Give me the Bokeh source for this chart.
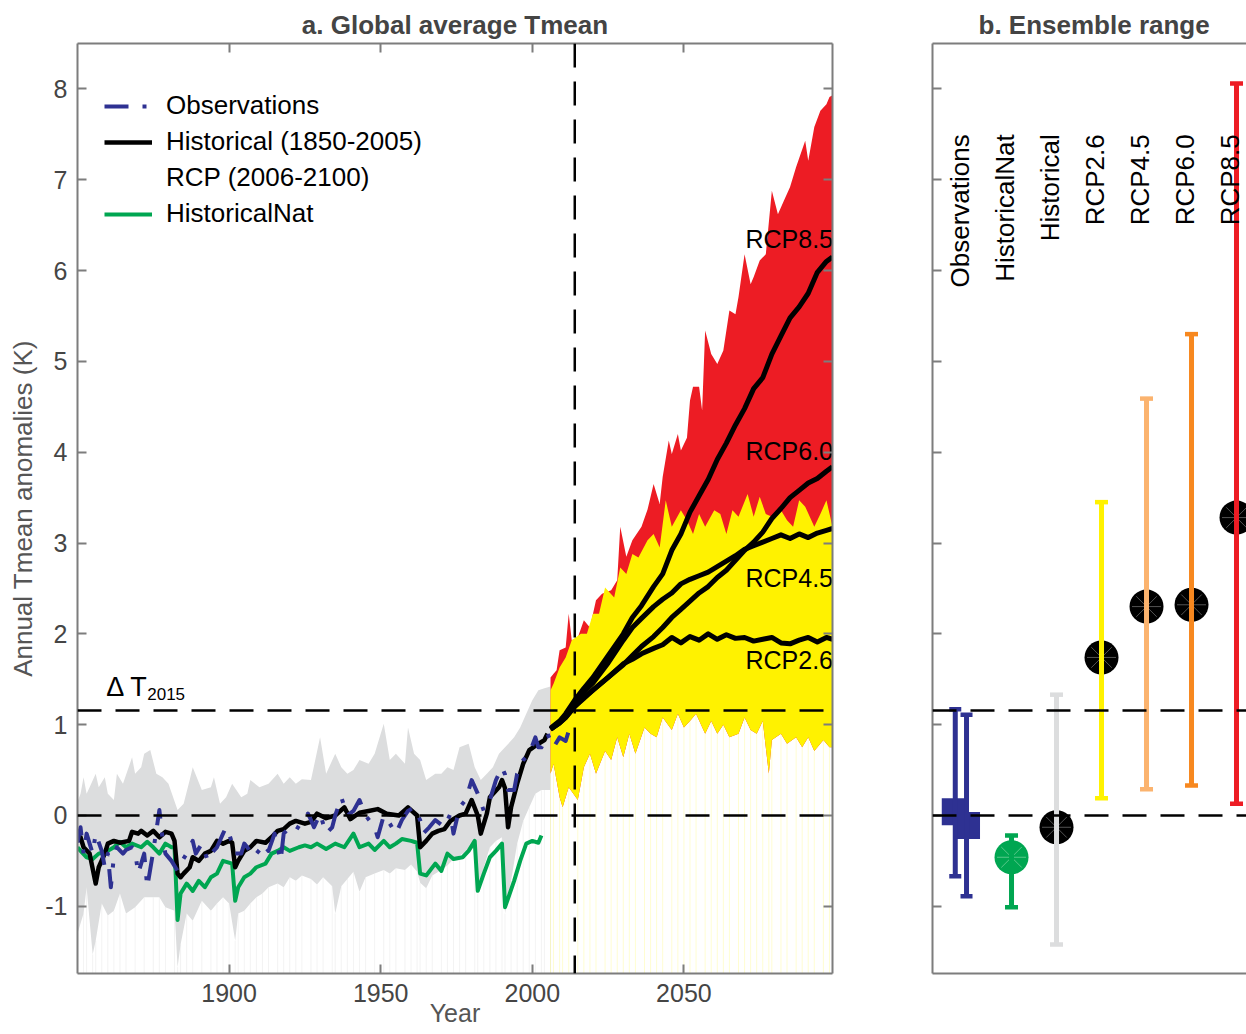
import math
from bokeh.plotting import figure
from bokeh.models import Range1d, LinearAxis, FixedTicker, Span, Legend, LegendItem
from bokeh.layouts import row
from bokeh.embed import file_html
from bokeh.resources import INLINE
from bokeh.core.properties import value

FONT = "Liberation Sans"
AXIS = "#7d7d7d"
TICKLAB = "#454545"
OBS_C = "#2E3192"
NAT_C = "#00A651"
GREY_C = "#DCDDDE"
YEL_C = "#FFF200"
RED_C = "#ED1C24"
ORL_C = "#FBB36E"
ORA_C = "#F7881F"

# ---------------- data: panel a ----------------
hist_years = [1850,1851,1852,1854,1856,1857,1859,1860,1862,1864,1867,1868,1870,1871,1873,1875,1877,1879,1881,1882,
              1883,1884,1885,1887,1888,1890,1892,1894,1896,1898,1900,1901,1902,1903,1905,1907,1909,1912,1914,1916,
              1918,1920,1922,1925,1927,1929,1932,1935,1938,1940,1943,1946,1949,1952,1956,1959,1962,1963,1965,1967,
              1969,1971,1973,1976,1978,1980,1982,1983,1985,1986,1989,1990,1991,1992,1993,1995,1997,1999,2002,2004,2005]
hist_mean = [-0.28,-0.24,-0.35,-0.42,-0.75,-0.57,-0.42,-0.31,-0.28,-0.30,-0.28,-0.18,-0.20,-0.17,-0.22,-0.17,-0.24,-0.18,-0.20,-0.28,
             -0.64,-0.68,-0.64,-0.57,-0.46,-0.50,-0.42,-0.39,-0.28,-0.31,-0.28,-0.30,-0.57,-0.50,-0.39,-0.35,-0.28,-0.30,-0.24,-0.17,
             -0.15,-0.09,-0.06,-0.09,-0.07,0.02,-0.03,0.00,0.09,-0.04,0.03,0.05,0.07,0.02,0.00,0.09,0.00,-0.35,-0.28,-0.20,
             -0.17,-0.15,-0.06,0.00,0.02,0.17,0.00,-0.20,0.02,0.20,0.31,0.39,0.30,-0.13,0.09,0.35,0.57,0.72,0.79,0.83,0.90]

nat_years = [1850,1851,1853,1855,1857,1860,1862,1864,1866,1868,1871,1873,1875,1877,1879,1881,1882,1883,1884,1886,
             1888,1890,1892,1894,1896,1898,1901,1902,1903,1905,1907,1909,1912,1914,1916,1918,1920,1923,1925,1927,
             1929,1932,1935,1938,1941,1943,1946,1948,1951,1953,1955,1957,1960,1962,1963,1965,1968,1970,1972,1974,
             1977,1979,1981,1982,1984,1986,1988,1990,1991,1994,1996,1998,2000,2002,2003]
nat_mean = [-0.35,-0.39,-0.46,-0.48,-0.42,-0.39,-0.35,-0.29,-0.35,-0.31,-0.35,-0.29,-0.35,-0.42,-0.31,-0.35,-0.35,-1.15,-0.86,-0.75,
            -0.83,-0.72,-0.79,-0.68,-0.64,-0.50,-0.53,-0.94,-0.79,-0.68,-0.64,-0.57,-0.53,-0.42,-0.39,-0.35,-0.39,-0.35,-0.33,-0.35,
            -0.31,-0.37,-0.31,-0.35,-0.20,-0.35,-0.31,-0.38,-0.28,-0.35,-0.31,-0.26,-0.28,-0.30,-0.64,-0.66,-0.53,-0.61,-0.42,-0.48,
            -0.46,-0.39,-0.28,-0.83,-0.64,-0.46,-0.39,-0.31,-1.01,-0.72,-0.50,-0.31,-0.28,-0.30,-0.22]

obs_years = [1850,1851,1852,1853,1855,1856,1858,1859,1860,1861,1862,1863,1865,1866,1868,1869,1870,1872,1873,1875,
             1877,1878,1879,1881,1883,1884,1886,1888,1889,1891,1893,1894,1896,1898,1899,1900,1902,1904,1905,1906,
             1908,1910,1911,1913,1915,1917,1918,1920,1922,1924,1926,1927,1928,1930,1932,1934,1935,1937,1939,1941,
             1943,1945,1948,1949,1951,1953,1955,1957,1959,1961,1963,1964,1966,1968,1971,1973,1974,1976,1978,1980,
             1982,1984,1986,1988,1990,1991,1992,1994,1995,1997,1999,2001,2002,2003,2005,2007,2009,2011,2013]
obs_anom = [-0.30,-0.13,-0.42,-0.20,-0.42,-0.20,-0.39,-0.57,-0.42,-0.79,-0.45,-0.35,-0.42,-0.38,-0.35,-0.39,-0.64,-0.42,-0.79,-0.39,
            0.06,-0.24,-0.42,-0.50,-0.61,-0.53,-0.42,-0.28,-0.42,-0.31,-0.50,-0.42,-0.35,-0.20,-0.13,-0.20,-0.42,-0.42,-0.31,-0.35,
            -0.46,-0.38,-0.31,-0.39,-0.20,-0.50,-0.20,-0.13,-0.17,-0.06,0.02,-0.05,-0.13,0.02,-0.20,-0.13,0.00,0.20,0.00,0.05,
            0.17,0.00,-0.13,-0.24,0.00,-0.09,-0.20,-0.05,0.05,0.09,-0.05,-0.20,-0.13,-0.05,-0.13,0.02,-0.20,0.09,0.17,0.39,
            0.24,0.05,0.17,0.39,0.53,0.45,0.28,0.28,0.46,0.61,0.68,0.86,0.75,0.75,0.90,0.75,0.86,0.82,1.04]

histrange_up_years = [1850,1851,1852,1853,1854,1856,1857,1859,1860,1862,1863,1865,1868,1869,1871,1872,1874,1876,1878,1880,
                      1883,1885,1887,1888,1891,1894,1895,1897,1899,1901,1904,1906,1907,1910,1913,1916,1918,1920,1922,1924,
                      1927,1930,1932,1935,1937,1939,1941,1943,1946,1948,1951,1953,1955,1958,1959,1961,1963,1965,1968,1970,
                      1972,1974,1976,1979,1981,1983,1985,1987,1989,1991,1994,1996,1998,2000,2002,2004,2006]
histrange_up = [0.15,0.24,0.42,0.24,0.31,0.46,0.31,0.42,0.24,0.17,0.46,0.35,0.64,0.46,0.53,0.68,0.72,0.46,0.42,0.35,
                0.06,0.13,0.39,0.53,0.28,0.31,0.42,0.13,0.20,0.35,0.20,0.24,0.39,0.31,0.35,0.46,0.35,0.42,0.35,0.40,
                0.39,0.86,0.46,0.68,0.53,0.46,0.50,0.61,0.57,0.68,1.01,0.61,0.68,0.57,0.97,0.68,0.61,0.39,0.46,0.46,
                0.53,0.50,0.75,0.79,0.53,0.39,0.46,0.53,0.68,0.75,0.86,0.97,1.12,1.27,1.38,1.40,1.42]

histrange_lo_years = [1850,1852,1853,1855,1856,1858,1860,1862,1864,1866,1869,1872,1875,1877,1879,1882,1883,1884,1886,1888,
                      1891,1894,1896,1898,1900,1902,1903,1905,1907,1909,1911,1913,1916,1918,1920,1922,1924,1927,1929,1931,
                      1934,1935,1937,1939,1941,1943,1945,1948,1951,1953,1955,1958,1960,1962,1963,1965,1967,1970,1972,1974,
                      1976,1978,1981,1982,1984,1986,1988,1990,1991,1993,1995,1997,1999,2001,2003,2004,2006]
histrange_lo = [-1.30,-1.08,-0.79,-1.53,-1.38,-0.97,-1.10,-1.05,-0.86,-1.08,-1.01,-0.90,-0.90,-0.90,-1.01,-1.05,-1.67,-1.42,-1.08,-1.16,
                -0.94,-1.05,-0.97,-0.90,-0.97,-1.38,-1.08,-1.05,-0.97,-0.90,-0.86,-0.79,-0.75,-0.79,-0.68,-0.72,-0.66,-0.70,-0.76,-0.68,
                -0.78,-1.08,-0.78,-0.70,-0.62,-0.84,-0.68,-0.64,-0.60,-0.64,-0.58,-0.60,-0.54,-0.62,-0.74,-0.80,-0.66,-0.60,-0.55,-0.48,
                -0.44,-0.40,-0.36,-0.86,-0.57,-0.35,-0.28,-0.24,-1.08,-0.72,-0.31,-0.06,0.09,0.24,0.28,0.28,0.28]

rcp85_up_years = [2006,2007,2008,2009,2011,2012,2013,2015,2017,2019,2021,2023,2026,2028,2029,2031,2033,2036,2038,2040,
                  2042,2043,2045,2046,2048,2049,2051,2052,2053,2055,2056,2057,2059,2061,2063,2065,2067,2068,2070,2072,
                  2073,2075,2077,2079,2081,2083,2085,2087,2090,2091,2093,2095,2097,2098,2099]
rcp85_up = [1.52,1.56,1.60,1.82,1.85,2.22,1.93,1.96,2.15,2.07,2.37,2.44,2.48,2.59,3.18,2.85,3.03,3.18,3.37,3.65,
            3.43,3.73,4.13,3.98,4.20,4.02,4.16,4.57,4.72,4.72,4.46,5.34,5.08,4.97,5.12,5.56,5.52,5.71,6.18,5.85,
            5.93,6.11,6.18,6.88,6.62,6.77,6.92,7.14,7.43,7.21,7.58,7.76,7.83,7.91,7.93]

rcp_up_years = [2006,2007,2009,2011,2013,2016,2018,2020,2022,2024,2027,2029,2031,2033,2035,2038,2040,2042,2044,2046,
                2049,2051,2053,2055,2057,2060,2062,2064,2066,2068,2071,2073,2075,2077,2079,2082,2084,2086,2088,2090,
                2093,2095,2097,2099]
rcp_up = [1.38,1.45,1.63,1.74,1.93,2.00,2.00,2.22,2.22,2.51,2.40,2.73,2.66,2.88,2.84,3.03,3.10,2.95,3.47,3.18,
          3.36,3.25,3.10,3.32,3.18,3.36,3.32,3.10,3.36,3.29,3.54,3.29,3.51,3.32,3.29,3.36,3.25,3.18,3.47,3.40,
          3.18,3.32,3.47,3.18]

rcp_lo_years = [2006,2007,2009,2010,2012,2015,2017,2019,2021,2024,2026,2028,2030,2032,2034,2037,2039,2041,2043,2046,
                2048,2050,2052,2054,2057,2059,2061,2063,2065,2068,2070,2072,2074,2076,2078,2079,2082,2084,2087,2089,
                2091,2093,2096,2098,2099]
rcp_lo = [0.46,0.57,0.20,0.09,0.31,0.17,0.53,0.68,0.46,0.71,0.61,0.86,0.64,0.90,0.68,0.97,0.90,0.86,1.08,0.94,
          1.12,0.97,1.04,1.12,0.90,1.04,0.90,1.00,0.86,0.90,1.08,0.94,0.90,1.04,0.46,0.83,0.90,0.79,0.86,0.75,
          0.86,0.71,0.83,0.75,0.75]

rcp_years = [2006,2009,2011,2014,2017,2020,2025,2030,2033,2036,2040,2043,2046,2049,2052,2055,2058,2061,2064,2067,
             2070,2073,2076,2079,2082,2085,2088,2091,2094,2097,2099]
rcp26 = [0.95,1.02,1.08,1.20,1.30,1.38,1.52,1.67,1.72,1.78,1.84,1.88,1.96,1.90,1.97,1.93,2.00,1.94,1.99,1.95,
         1.96,1.92,1.94,1.96,1.90,1.89,1.93,1.96,1.91,1.96,1.94]
rcp45 = [0.95,1.03,1.10,1.24,1.36,1.46,1.68,1.93,2.07,2.17,2.30,2.38,2.45,2.55,2.60,2.64,2.68,2.74,2.80,2.86,
         2.93,2.97,3.01,3.05,3.09,3.05,3.10,3.06,3.11,3.14,3.16]
rcp60 = [0.95,1.02,1.08,1.20,1.29,1.38,1.52,1.66,1.76,1.86,1.97,2.07,2.18,2.27,2.36,2.45,2.52,2.62,2.70,2.81,
         2.92,3.01,3.12,3.27,3.38,3.50,3.58,3.66,3.71,3.79,3.84]
rcp85 = [0.96,1.04,1.12,1.27,1.40,1.52,1.76,2.00,2.18,2.31,2.52,2.66,2.92,3.10,3.34,3.52,3.70,3.92,4.10,4.30,
         4.48,4.70,4.82,5.08,5.28,5.48,5.60,5.75,5.98,6.10,6.15]

rcp_names = ["RCP8.5", "RCP6.0", "RCP4.5", "RCP2.6"]
rcp_label_y = [6.35, 4.01, 2.61, 1.71]

dT2015 = 1.156
year_2015_line = 2014
x_ticks = [1900, 1950, 2000, 2050]
y_ticks = [-1, 0, 1, 2, 3, 4, 5, 6, 7, 8]

# ---------------- data: panel b ----------------
ens_labels = ["Observations", "HistoricalNat", "Historical", "RCP2.6", "RCP4.5", "RCP6.0", "RCP8.5"]
obs_pos = [0.75, 1.0]
obs_mid = [0.04, -0.11]
obs_low = [-0.67, -0.89]
obs_high = [1.17, 1.11]
mod_pos = [2, 3, 4, 5, 6, 7]
mod_mid = [-0.46, -0.13, 1.74, 2.30, 2.32, 3.28]
mod_low = [-1.01, -1.42, 0.19, 0.29, 0.33, 0.13]
mod_high = [-0.22, 1.33, 3.45, 4.59, 5.30, 8.06]
mod_colors = [NAT_C, GREY_C, YEL_C, ORL_C, ORA_C, RED_C]
mod_fill = [NAT_C, "black", "black", "black", "black", "black"]
mod_star = ["#7fd6a3", "#777777", "#777777", "#777777", "#777777", "#777777"]

YMIN, YMAX = -1.74, 8.5


def style_axis(ax, ticks, labels=True, ticks_on=True):
    ax.ticker = FixedTicker(ticks=ticks)
    ax.axis_line_color = AXIS
    ax.axis_line_width = 2
    ax.major_tick_line_color = AXIS if ticks_on else None
    ax.major_tick_line_width = 2
    ax.major_tick_in = 9
    ax.major_tick_out = 0
    ax.minor_tick_line_color = None
    ax.major_label_text_font = FONT
    ax.major_label_text_font_size = "25px"
    ax.major_label_text_color = TICKLAB
    if labels:
        ax.major_label_overrides = {t: ("-%d" % -t if t < 0 else str(t)) for t in ticks}
    else:
        ax.major_label_overrides = {t: "" for t in ticks}
        ax.major_label_standoff = 0


# ---------------- panel a ----------------
p1 = figure(width=862, height=1034, x_range=Range1d(1850, 2099), y_range=Range1d(YMIN, YMAX),
            output_backend="svg", toolbar_location=None,
            min_border_left=77, min_border_right=30, min_border_top=43, min_border_bottom=61)
p1.grid.visible = False
p1.outline_line_color = None
p1.background_fill_color = "white"

style_axis(p1.xaxis[0], x_ticks)
p1.xaxis[0].major_label_standoff = 10
p1.xaxis[0].axis_label = "Year"
p1.xaxis[0].axis_label_text_font = FONT
p1.xaxis[0].axis_label_text_font_size = "25px"
p1.xaxis[0].axis_label_text_font_style = "normal"
p1.xaxis[0].axis_label_text_color = "#555555"
p1.xaxis[0].axis_label_standoff = -6

style_axis(p1.yaxis[0], y_ticks)
p1.yaxis[0].major_label_standoff = 10
p1.yaxis[0].axis_label = "Annual Tmean anomalies (K)"
p1.yaxis[0].axis_label_text_font = FONT
p1.yaxis[0].axis_label_text_font_size = "26px"
p1.yaxis[0].axis_label_text_font_style = "normal"
p1.yaxis[0].axis_label_text_color = "#555555"
p1.yaxis[0].axis_label_standoff = 4

ax_top = LinearAxis()
style_axis(ax_top, x_ticks, labels=False)
p1.add_layout(ax_top, "above")
ax_right = LinearAxis()
style_axis(ax_right, y_ticks, labels=False)
p1.add_layout(ax_right, "right")

p1.title.text = "a. Global average Tmean"
p1.title.align = "center"
p1.title.text_font = FONT
p1.title.text_font_size = "26px"
p1.title.text_font_style = "bold"
p1.title.standoff = 8

# faint vertical hairlines below the bands
p1.segment(x0=histrange_lo_years, y0=[YMIN] * len(histrange_lo_years), x1=histrange_lo_years, y1=histrange_lo,
           line_color=GREY_C, line_alpha=0.35, line_width=1)
p1.segment(x0=rcp_lo_years, y0=[YMIN] * len(rcp_lo_years), x1=rcp_lo_years, y1=rcp_lo,
           line_color=YEL_C, line_alpha=0.18, line_width=1)

# bands
p1.patch(x=histrange_up_years + histrange_lo_years[::-1], y=histrange_up + histrange_lo[::-1],
         fill_color=GREY_C, line_color=None)
p1.patch(x=rcp85_up_years + rcp_lo_years[::-1], y=rcp85_up + rcp_lo[::-1],
         fill_color=RED_C, line_color=None)
p1.patch(x=rcp_up_years + rcp_lo_years[::-1], y=rcp_up + rcp_lo[::-1],
         fill_color=YEL_C, line_color=None)

# lines
r_nat = p1.line(nat_years, nat_mean, line_color=NAT_C, line_width=4, line_join="round")
r_hist = p1.line(hist_years, hist_mean, line_color="black", line_width=4.5, line_join="round")
r_obs = p1.line(obs_years, obs_anom, line_color=OBS_C, line_width=4, line_dash="24 14 4 14", line_join="round")
for ser in (rcp26, rcp45, rcp60, rcp85):
    p1.line(rcp_years, ser, line_color="black", line_width=5, line_join="round")
r_dummy = p1.line(x=[], y=[], line_alpha=0)

p1.text(x=[2070.3] * 4, y=rcp_label_y, text=rcp_names, text_font=value(FONT), text_font_size="25px",
        text_baseline="middle", text_align="left", text_color="black")
p1.text(x=[1859.5], y=[1.42], text=["\u0394 T"], text_font=value(FONT), text_font_size="27px",
        text_baseline="alphabetic", text_align="left", text_color="black")
p1.text(x=[1873.0], y=[1.34], text=["2015"], text_font=value(FONT), text_font_size="17px",
        text_baseline="alphabetic", text_align="left", text_color="black")

for loc in (0, dT2015):
    p1.add_layout(Span(location=loc, dimension="width", line_color="black", line_width=2.5, line_dash="24 14"))
p1.add_layout(Span(location=year_2015_line, dimension="height", line_color="black", line_width=2.5, line_dash="24 14"))

legend = Legend(items=[LegendItem(label="Observations", renderers=[r_obs]),
                       LegendItem(label="Historical (1850-2005)", renderers=[r_hist]),
                       LegendItem(label="RCP (2006-2100)", renderers=[r_dummy]),
                       LegendItem(label="HistoricalNat", renderers=[r_nat])],
                location=(27, 744), glyph_width=48, glyph_height=30, label_height=30, spacing=5,
                padding=0, margin=0, label_standoff=14, border_line_alpha=0, background_fill_alpha=0,
                label_text_font=FONT, label_text_font_size="26px", label_text_color="black")
p1.add_layout(legend)

# ---------------- panel b ----------------
p2 = figure(width=384, height=1034, x_range=Range1d(0.244, 7.222), y_range=Range1d(YMIN, YMAX),
            output_backend="svg", toolbar_location=None,
            min_border_left=70, min_border_right=0, min_border_top=43, min_border_bottom=61)
p2.grid.visible = False
p2.outline_line_color = None
style_axis(p2.yaxis[0], y_ticks, labels=False)
style_axis(p2.xaxis[0], [], labels=False, ticks_on=False)
ax_top2 = LinearAxis()
style_axis(ax_top2, [], labels=False, ticks_on=False)
p2.add_layout(ax_top2, "above")

p2.title.text = "b. Ensemble range"
p2.title.align = "left"
p2.title.offset = 46
p2.title.text_font = FONT
p2.title.text_font_size = "26px"
p2.title.text_font_style = "bold"
p2.title.standoff = 8

# markers
p2.scatter(obs_pos, obs_mid, marker="square", size=27, fill_color=OBS_C, line_color=None)
p2.scatter(mod_pos, mod_mid, marker="circle", size=34, fill_color=mod_fill, line_color=None)
p2.scatter(mod_pos, mod_mid, marker="asterisk", size=29, line_color=mod_star, line_width=0.7)

# range bars
p2.segment(x0=obs_pos, y0=obs_low, x1=obs_pos, y1=obs_high, line_color=OBS_C, line_width=5)
p2.scatter(obs_pos, obs_low, marker="dash", size=12, line_color=OBS_C, line_width=4.5)
p2.scatter(obs_pos, obs_high, marker="dash", size=12, line_color=OBS_C, line_width=4.5)
p2.segment(x0=mod_pos, y0=mod_low, x1=mod_pos, y1=mod_high, line_color=mod_colors, line_width=5)
p2.scatter(mod_pos, mod_low, marker="dash", size=13, line_color=mod_colors, line_width=4.5)
p2.scatter(mod_pos, mod_high, marker="dash", size=13, line_color=mod_colors, line_width=4.5)

p2.text(x=[i + 1 - 0.134 for i in range(len(ens_labels))], y=[7.5] * len(ens_labels), text=ens_labels,
        angle=math.pi / 2, text_align="right", text_baseline="middle",
        text_font=value(FONT), text_font_size="26px", text_color="black")

for loc in (0, dT2015):
    p2.add_layout(Span(location=loc, dimension="width", line_color="black", line_width=2.5, line_dash="24 14"))

layout = row(p1, p2)
open("out.html", "w").write(file_html(layout, INLINE))
